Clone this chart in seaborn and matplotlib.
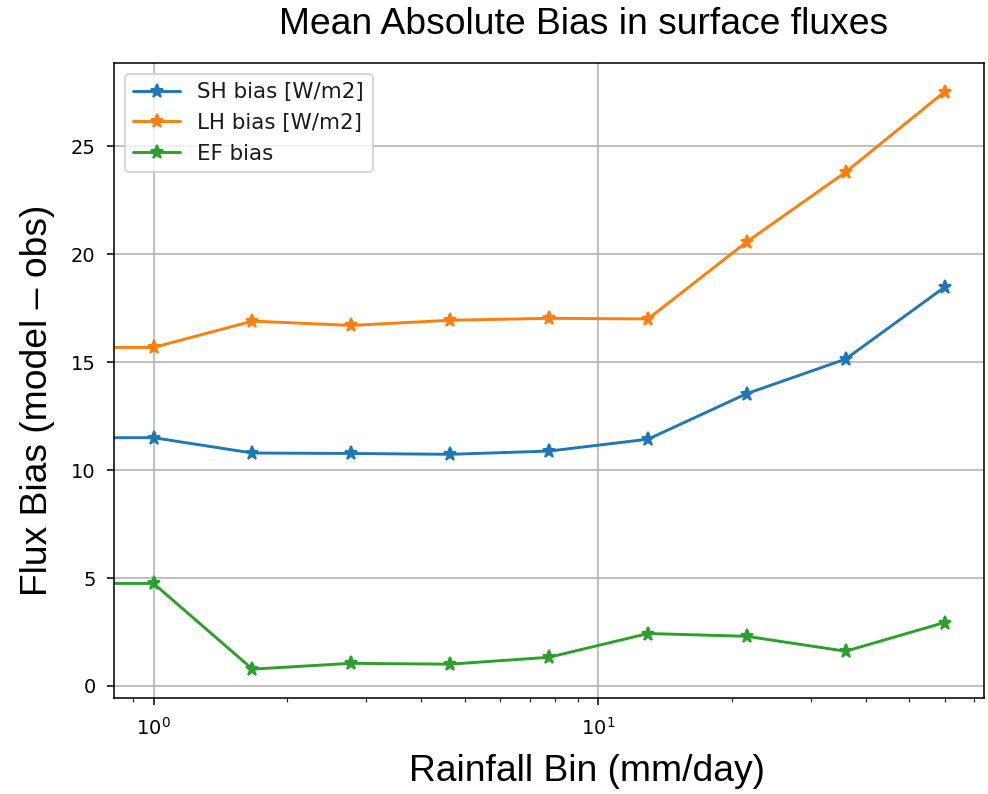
import numpy as np
import pandas as pd
import matplotlib
matplotlib.use("Agg")
import matplotlib.pyplot as plt
import seaborn as sns

# Rainfall bin centres (mm/day); the first bin is zero rainfall
rain_bins = [0.0, 1.0, 1.668, 2.783, 4.642, 7.743, 12.92, 21.54, 35.94, 59.95]
sh_bias = [11.50, 11.50, 10.79, 10.77, 10.73, 10.88, 11.43, 13.54, 15.14, 18.47]
lh_bias = [15.68, 15.68, 16.90, 16.70, 16.94, 17.03, 17.00, 20.57, 23.80, 27.52]
ef_bias = [4.75, 4.75, 0.78, 1.05, 1.01, 1.33, 2.43, 2.30, 1.61, 2.94]
series_names = ["SH bias [W/m2]", "LH bias [W/m2]", "EF bias"]

df = pd.concat([
    pd.DataFrame({"rain": rain_bins, "bias": vals, "series": name})
    for name, vals in zip(series_names, [sh_bias, lh_bias, ef_bias])
], ignore_index=True)

sns.set_style("ticks")
plt.rcParams["font.family"] = ["DejaVu Sans"]
plt.rcParams["font.size"] = 10
plt.rcParams["text.color"] = "black"
plt.rcParams["axes.labelcolor"] = "black"

fig = plt.figure(figsize=(988 / 140, 794 / 140), dpi=140)
ax = fig.add_axes([0.1154, 0.1209, 0.8806, 0.7998])

palette = ["#1f77b4", "#ff7f0e", "#2ca02c"]
sns.lineplot(data=df, x="rain", y="bias", hue="series", hue_order=series_names,
             palette=palette, marker="*", markersize=7, linewidth=1.5,
             estimator=None, sort=True, ax=ax)
for ln in ax.lines:
    ln.set_markeredgecolor(ln.get_color())
    ln.set_markerfacecolor(ln.get_color())
    ln.set_markeredgewidth(1.0)
ax.set_xscale("log")
ax.relim()
ax.autoscale_view()

ax.grid(True, which="major", color="#b0b0b0", linewidth=0.8)
for s in ax.spines.values():
    s.set_visible(True)
    s.set_color("black")
    s.set_linewidth(0.8)
ax.tick_params(axis="both", which="major", direction="out", length=3.5, width=0.8,
               pad=6, labelsize=10, colors="black")
ax.tick_params(axis="x", which="minor", length=2, width=0.6)
ax.set_yticks([0, 5, 10, 15, 20, 25])

leg = ax.legend(loc="upper left", fontsize=11, frameon=True, framealpha=0.8,
                edgecolor="#cccccc", fancybox=True, handlelength=2.2)
for h in leg.legend_handles:
    h.set_markeredgecolor(h.get_color())
    h.set_markerfacecolor(h.get_color())
for t in leg.get_texts():
    t.set_color("#1a1a1a")

arial = ["Liberation Sans", "DejaVu Sans"]
ax.text(0.54, 1.06, "Mean Absolute Bias in surface fluxes", family=arial,
        fontsize=19.2, color="black", ha="center", va="center", transform=ax.transAxes)
ax.set_xlabel("Rainfall Bin (mm/day)", family=arial, fontsize=19.2, color="black",
              va="center")
ax.set_ylabel("Flux Bias (model \u2013 obs)", family=arial, fontsize=19.2,
              color="black", va="center")
ax.xaxis.set_label_coords(0.543, -0.1165)
ax.yaxis.set_label_coords(-0.0874, 0.468)

fig.savefig("out.png", dpi=140)
